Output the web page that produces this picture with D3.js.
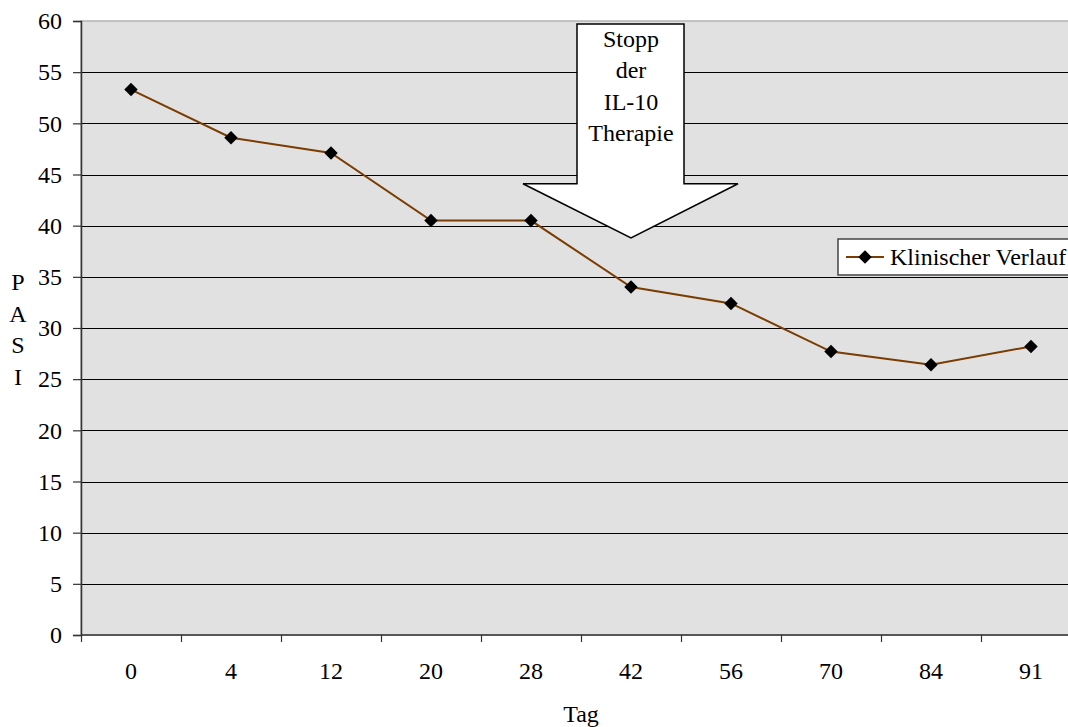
<!DOCTYPE html>
<html>
<head>
<meta charset="utf-8">
<script src="https://cdn.jsdelivr.net/npm/d3@7"></script>
<style>
  body { margin: 0; background: #fff; }
  svg text { font-family: 'Liberation Serif', Tinos, 'Times New Roman', 'DejaVu Serif', serif !important; fill: #000; }
</style>
</head>
<body>
<div id="chart"></div>
<script>
// categories (days) and PASI values
var days = ['0', '4', '12', '20', '28', '42', '56', '70', '84', '91'];
var pasi = [53.3, 48.6, 47.1, 40.5, 40.5, 34.0, 32.4, 27.7, 26.4, 28.2];
var yTicks = [0, 5, 10, 15, 20, 25, 30, 35, 40, 45, 50, 55, 60];
var seriesName = 'Klinischer Verlauf';
var arrowLines = ['Stopp', 'der', 'IL-10', 'Therapie'];

var width = 1068,
    height = 727,
    margin = {left: 81, top: 21, bottom: 92};

var plotW = 1000,
    plotH = height - margin.top - margin.bottom;

var serif = "'Liberation Serif', Tinos, 'Times New Roman', 'DejaVu Serif', serif";
var fs = 24;

var svg = d3.select('#chart')
  .append('svg')
  .attr('width', width)
  .attr('height', height)
  .attr('font-family', serif);

var x = d3.scaleBand()
  .domain(days)
  .range([margin.left, margin.left + plotW])
  .padding(0);

var y = d3.scaleLinear()
  .domain([0, 60])
  .range([margin.top + plotH, margin.top]);

// plot background
svg.append('rect')
  .attr('x', margin.left)
  .attr('y', margin.top)
  .attr('width', plotW)
  .attr('height', plotH)
  .attr('fill', '#e1e1e1')
  .attr('stroke', '#b4b4b4')
  .attr('stroke-width', 1.5);

// gridlines
svg.append('g')
  .selectAll('line')
  .data(yTicks.filter(function (d) { return d > 0 && d < 60; }))
  .enter().append('line')
  .attr('x1', margin.left)
  .attr('x2', margin.left + plotW)
  .attr('y1', function (d) { return Math.round(y(d)) + 0.5; })
  .attr('y2', function (d) { return Math.round(y(d)) + 0.5; })
  .attr('stroke', '#000')
  .attr('stroke-width', 1);

// y axis
var yAxis = svg.append('g')
  .attr('transform', 'translate(' + margin.left + ',0)')
  .call(d3.axisLeft(y).tickValues(yTicks).tickSize(8).tickPadding(11));
yAxis.attr('font-family', serif).attr('font-size', fs);
yAxis.select('.domain').attr('stroke', '#333').attr('stroke-width', 1.5);
yAxis.selectAll('.tick line').attr('stroke', '#333').attr('stroke-width', 1.2);
yAxis.selectAll('text').attr('fill', '#000');

// x axis with ticks between categories
var xAxis = svg.append('g')
  .attr('transform', 'translate(0,' + (margin.top + plotH) + ')');
xAxis.append('line')
  .attr('x1', margin.left)
  .attr('x2', margin.left + plotW)
  .attr('stroke', '#333')
  .attr('stroke-width', 1.5);
xAxis.selectAll('.tk')
  .data(days)
  .enter().append('line')
  .attr('class', 'tk')
  .attr('x1', function (d) { return x(d) + 0.5; })
  .attr('x2', function (d) { return x(d) + 0.5; })
  .attr('y1', 0)
  .attr('y2', 7)
  .attr('stroke', '#333')
  .attr('stroke-width', 1.2);
xAxis.selectAll('text')
  .data(days)
  .enter().append('text')
  .attr('x', function (d) { return x(d) + x.bandwidth() / 2; })
  .attr('y', 44)
  .attr('text-anchor', 'middle')
  .attr('font-size', fs)
  .text(function (d) { return d; });

// axis titles
svg.append('text')
  .attr('x', x(days[4]) + x.bandwidth())
  .attr('y', 722)
  .attr('text-anchor', 'middle')
  .attr('font-size', fs)
  .text('Tag');

svg.append('g')
  .selectAll('text')
  .data(['P', 'A', 'S', 'I'])
  .enter().append('text')
  .attr('x', 18)
  .attr('y', function (d, i) { return 290 + i * 31.5; })
  .attr('text-anchor', 'middle')
  .attr('font-size', fs)
  .text(function (d) { return d; });

// annotation arrow (placed in data space over day 42)
var ax = x('42') + x.bandwidth() / 2;
var arrowTop = 59.7, arrowShoulder = 44.1, arrowTip = 38.8;
var arrowPts = [
  [ax - 54, y(arrowTop)], [ax + 53, y(arrowTop)],
  [ax + 53, y(arrowShoulder)], [ax + 107, y(arrowShoulder)],
  [ax, y(arrowTip)],
  [ax - 108, y(arrowShoulder)], [ax - 54, y(arrowShoulder)]
];
svg.append('polygon')
  .attr('points', arrowPts.map(function (p) { return p.join(','); }).join(' '))
  .attr('fill', '#fff')
  .attr('stroke', '#000')
  .attr('stroke-width', 1.5);
svg.append('g')
  .selectAll('text')
  .data(arrowLines)
  .enter().append('text')
  .attr('x', ax)
  .attr('y', function (d, i) { return 47 + i * 31.3; })
  .attr('text-anchor', 'middle')
  .attr('font-size', fs)
  .text(function (d) { return d; });

// data line
var line = d3.line()
  .x(function (d, i) { return x(days[i]) + x.bandwidth() / 2; })
  .y(function (d) { return y(d); });

svg.append('path')
  .datum(pasi)
  .attr('d', line)
  .attr('fill', 'none')
  .attr('stroke', '#7a3c00')
  .attr('stroke-width', 2);

var diamond = d3.symbol().type(d3.symbolDiamond2).size(115);
svg.append('g')
  .selectAll('path')
  .data(pasi)
  .enter().append('path')
  .attr('d', diamond)
  .attr('transform', function (d, i) {
    return 'translate(' + (x(days[i]) + x.bandwidth() / 2) + ',' + y(d) + ')';
  })
  .attr('fill', '#000');

// legend
var legend = svg.append('g').attr('transform', 'translate(838,239)');
legend.append('rect')
  .attr('width', 260)
  .attr('height', 36)
  .attr('fill', '#fff')
  .attr('stroke', '#444')
  .attr('stroke-width', 1.5);
legend.append('line')
  .attr('x1', 8).attr('x2', 46)
  .attr('y1', 18).attr('y2', 18)
  .attr('stroke', '#7a3c00')
  .attr('stroke-width', 2);
legend.append('path')
  .attr('d', diamond)
  .attr('transform', 'translate(27,18)')
  .attr('fill', '#000');
legend.append('text')
  .attr('x', 52)
  .attr('y', 26)
  .attr('font-size', fs)
  .text(seriesName);
</script>
</body>
</html>
